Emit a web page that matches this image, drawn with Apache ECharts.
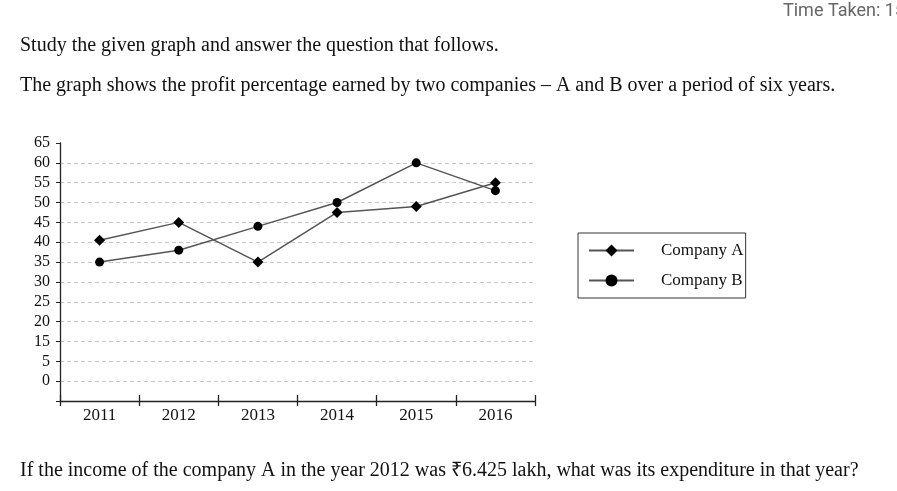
<!DOCTYPE html>
<html>
<head>
<meta charset="utf-8">
<script src="https://cdn.jsdelivr.net/npm/echarts@6/dist/echarts.min.js"></script>
<style>
html,body{margin:0;padding:0;background:#fff;}
#chart{width:897px;height:491px;}
</style>
</head>
<body>
<div id="chart"></div>
<script>
var years = ['2011', '2012', '2013', '2014', '2015', '2016'];
var companyA = [40.5, 45, 35, 47.5, 49, 55];
var companyB = [35, 38, 44, 50, 60, 53];
// tick labels as printed in the source (index = value / 5)
var yTickLabels = ['', '0', '5', '15', '20', '25', '30', '35', '40', '45', '50', '55', '60', '65'];

var serif = '"Liberation Serif", "Times New Roman", serif';
var chart = echarts.init(document.getElementById('chart'));

var option = {
  backgroundColor: '#fff',
  animation: false,
  grid: { left: 60, right: 362, top: 143, bottom: 90, containLabel: false },
  legend: {
    orient: 'vertical',
    left: 578, top: 233,
    padding: [9, 2, 9, 10],
    itemGap: 13,
    itemWidth: 45, itemHeight: 15,
    borderColor: '#333', borderWidth: 1,
    textStyle: { fontFamily: serif, fontSize: 17, color: '#111', padding: [0, 0, 0, 22] },
    data: ['Company A', 'Company B']
  },
  xAxis: [{
    type: 'category',
    data: years,
    boundaryGap: true,
    axisLine: { lineStyle: { color: '#222', width: 1.3 } },
    axisTick: { show: true, inside: true, length: 6, lineStyle: { color: '#222', width: 1.3 } },
    axisLabel: { color: '#111', fontFamily: serif, fontSize: 17, margin: 6 }
  }, {
    type: 'category',
    data: years,
    position: 'bottom',
    boundaryGap: true,
    axisLine: { show: false },
    axisTick: { show: true, inside: false, length: 5, lineStyle: { color: '#222', width: 1.3 } },
    axisLabel: { show: false }
  }],
  yAxis: {
    type: 'value',
    min: 0, max: 65, interval: 5,
    axisLine: { show: true, lineStyle: { color: '#222', width: 1.3 } },
    axisTick: { show: true, length: 4, lineStyle: { color: '#222' } },
    axisLabel: {
      color: '#111', fontFamily: serif, fontSize: 16, margin: 10,
      formatter: function (v) { return yTickLabels[Math.round(v / 5)]; }
    },
    splitLine: {
      show: true, showMinLine: false, showMaxLine: false,
      lineStyle: { color: '#c8c8c8', type: [4, 3], width: 1 }
    }
  },
  series: [{
    name: 'Company A',
    type: 'line',
    data: companyA,
    symbol: 'diamond', symbolSize: 11,
    itemStyle: { color: '#000' },
    lineStyle: { color: '#555', width: 1.5 }
  }, {
    name: 'Company B',
    type: 'line',
    data: companyB,
    symbol: 'circle', symbolSize: 9,
    itemStyle: { color: '#000' },
    lineStyle: { color: '#555', width: 1.5 }
  }],
  graphic: [
    { type: 'text', left: 783, top: 2, style: { text: 'Time Taken: 15', font: '18px Roboto, "Noto Sans", sans-serif', fill: '#666' } },
    { type: 'text', left: 20, top: 36, style: { text: 'Study the given graph and answer the question that follows.', font: '20px ' + serif, fill: '#111' } },
    { type: 'text', left: 20, top: 76, style: { text: 'The graph shows the profit percentage earned by two companies \u2013 A and B over a period of six years.', font: '20px ' + serif, fill: '#111' } },
    { type: 'text', left: 20, top: 461, style: { text: 'If the income of the company A in the year 2012 was \u20b96.425 lakh, what was its expenditure in that year?', font: '20px ' + serif, fill: '#111' } }
  ]
};
chart.setOption(option);
</script>
</body>
</html>
